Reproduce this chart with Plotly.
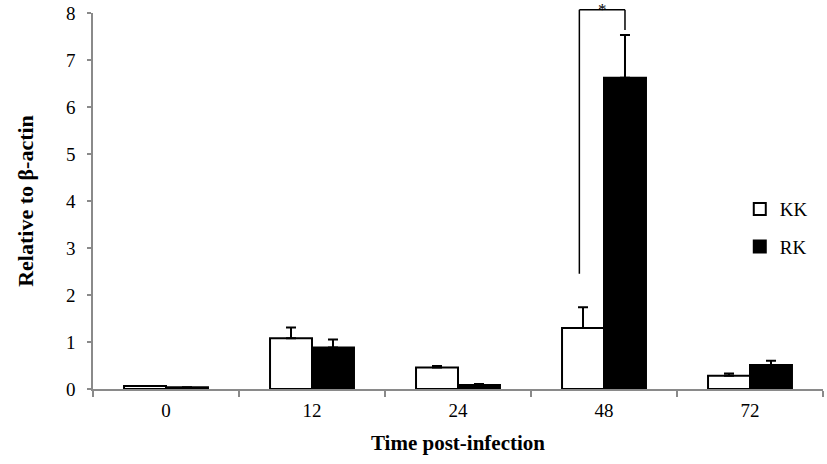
import plotly.graph_objects as go

categories = ["0", "12", "24", "48", "72"]
kk_values = [0.065, 1.08, 0.46, 1.30, 0.28]
kk_errors = [0.0, 0.23, 0.03, 0.44, 0.05]
rk_values = [0.035, 0.885, 0.085, 6.62, 0.51]
rk_errors = [0.0, 0.17, 0.02, 0.91, 0.09]
y_ticks = [0, 1, 2, 3, 4, 5, 6, 7, 8]

# significance bracket between KK and RK at 48 h
sig_category = "48"
bracket_top = 8.07
bracket_left_bottom = 2.45
bracket_right_bottom = 7.64

FONT = "Liberation Serif, Times New Roman, serif"
BARGAP = 0.425
Y_MAX = 8

fig = go.Figure()
fig.add_trace(go.Bar(
    name="KK", x=categories, y=kk_values,
    marker=dict(color="white", line=dict(color="black", width=2)),
    error_y=dict(type="data", symmetric=False, array=kk_errors,
                 arrayminus=[0] * len(kk_errors), color="black",
                 thickness=2, width=5),
    legendgroup="a",
))
fig.add_trace(go.Bar(
    name="RK", x=categories, y=rk_values,
    marker=dict(color="black", line=dict(color="black", width=2)),
    error_y=dict(type="data", symmetric=False, array=rk_errors,
                 arrayminus=[0] * len(rk_errors), color="black",
                 thickness=2, width=5),
    legendgroup="b",
))

# bracket positions in paper coords derived from the categorical scale
idx = categories.index(sig_category)
half = (1 - BARGAP) / 4
n = len(categories)
def xp(v):
    return (v + 0.5) / n
x_left = xp(idx - half) - 0.005
x_right = xp(idx + half)
line = dict(color="black", width=1.5)
fig.add_shape(type="line", xref="paper", yref="paper",
              x0=x_left, x1=x_left, y0=bracket_left_bottom / Y_MAX, y1=bracket_top / Y_MAX, line=line)
fig.add_shape(type="line", xref="paper", yref="paper",
              x0=x_left, x1=x_right, y0=bracket_top / Y_MAX, y1=bracket_top / Y_MAX, line=line)
fig.add_shape(type="line", xref="paper", yref="paper",
              x0=x_right, x1=x_right, y0=bracket_right_bottom / Y_MAX, y1=bracket_top / Y_MAX, line=line)
fig.add_annotation(text="*", xref="paper", yref="paper",
                   x=(x_left + x_right) / 2, y=bracket_top / Y_MAX,
                   yanchor="top", xanchor="center", showarrow=False,
                   font=dict(family=FONT, size=17, color="black"), yshift=12)

fig.update_layout(
    width=827, height=464,
    margin=dict(l=93, r=4, t=13, b=75, autoexpand=False),
    paper_bgcolor="white", plot_bgcolor="white",
    barmode="group", bargap=BARGAP, bargroupgap=0,
    font=dict(family=FONT, size=19, color="black"),
    legend=dict(x=0.886, y=0.428, xanchor="left", yanchor="middle",
                bgcolor="rgba(0,0,0,0)", font=dict(family=FONT, size=19),
                tracegroupgap=10, itemwidth=30),
    xaxis=dict(
        type="category", showline=True, linecolor="#8a8a8a", linewidth=1.5,
        ticks="outside", tickson="boundaries", ticklen=6, tickcolor="#8a8a8a",
        tickwidth=1.5, showgrid=False, zeroline=False, automargin=False,
        tickfont=dict(family=FONT, size=19), ticklabelstandoff=3,
        title=dict(text="<b>Time post-infection</b>", standoff=16,
                   font=dict(family=FONT, size=21)),
    ),
    yaxis=dict(
        range=[0, Y_MAX], tickvals=y_ticks, showline=True, linecolor="#8a8a8a",
        linewidth=1.5, ticks="outside", ticklen=4, tickcolor="#8a8a8a",
        tickwidth=1.5, showgrid=False, zeroline=False, automargin=False,
        tickfont=dict(family=FONT, size=19), ticklabelstandoff=8,
        ticklabeloverflow="allow",
        title=dict(text="<b>Relative to β-actin</b>", standoff=26,
                   font=dict(family=FONT, size=22)),
    ),
)

fig.write_html("out.html", config={"displayModeBar": False},
               post_script="document.body.style.margin='0';document.body.style.padding='0';")
